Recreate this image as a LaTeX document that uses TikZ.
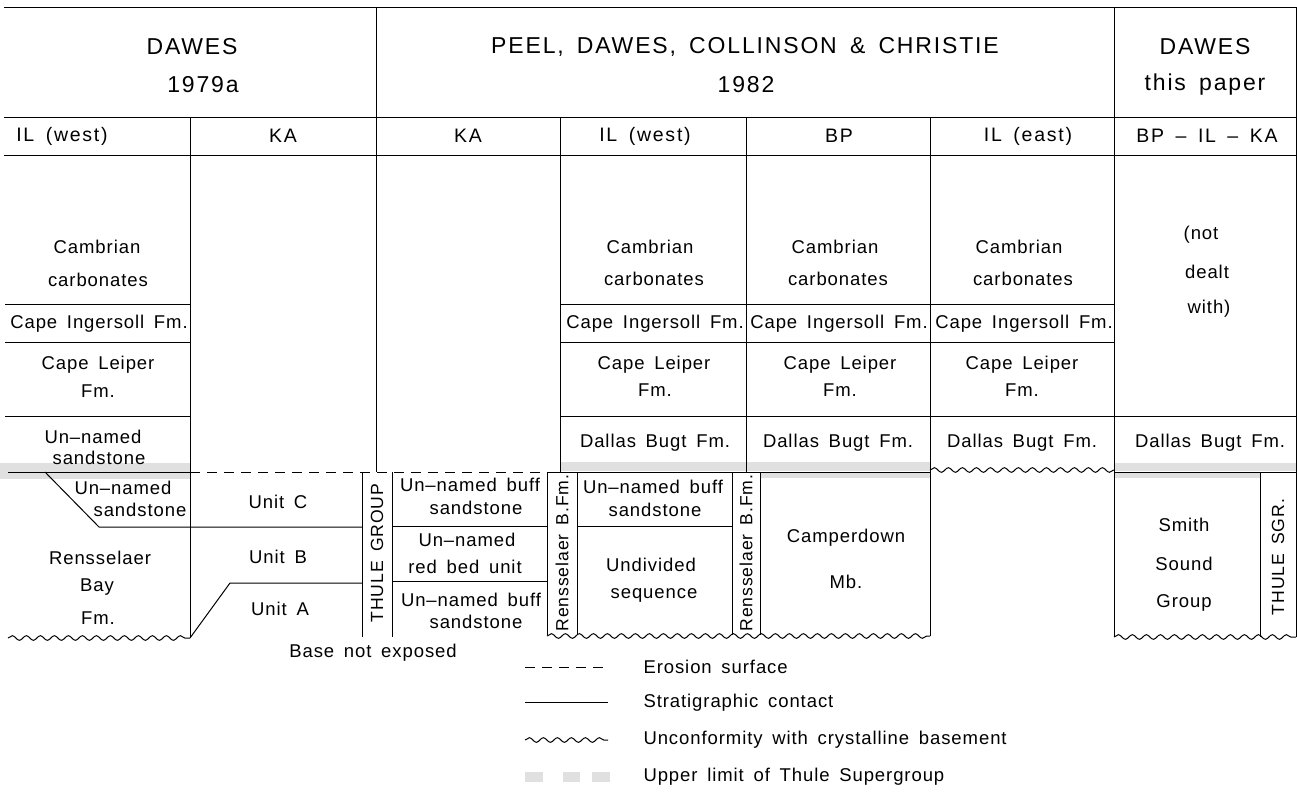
\documentclass[tikz,border=0pt]{standalone}
\usepackage{fontspec}
\setmainfont{Liberation Sans}[LetterSpace=5,WordSpace=1.6]
\usetikzlibrary{decorations.pathmorphing}
\begin{document}
\begin{tikzpicture}[x=1pt,y=-1pt,line width=1pt,
  lbl/.style={font=\fontsize{18.5}{22}\selectfont, inner sep=0pt},
  hdr/.style={font=\fontsize{23}{27}\selectfont\addfontfeatures{LetterSpace=8}, inner sep=0pt},
  colh/.style={font=\fontsize{19.5}{23}\selectfont\addfontfeatures{LetterSpace=9}, inner sep=0pt},
  rot/.style={font=\fontsize{17.6}{21}\selectfont, inner sep=0pt, rotate=90},
  wavy/.style={decorate, decoration={snake, segment length=14pt, amplitude=2.3pt}},
  erosion/.style={dash pattern=on 10pt off 7pt},
  thule/.style={fill=gray!24, draw=none}]
\useasboundingbox (0,0) rectangle (1297,795);

% ---- shading (upper limit of Thule Supergroup)
\fill[thule] (0,463) rectangle (190,479);
\fill[thule] (560,462) rectangle (930,471);
\fill[thule] (760,472) rectangle (930,478);
\fill[thule] (1114,463) rectangle (1296,471);
\fill[thule] (1114,472) rectangle (1260,478);

% ---- frame and header
\draw (4,7) -- (1297,7);
\draw (4,117) -- (1297,117);
\draw (4,155) -- (1297,155);
\draw (1296,7) -- (1296,637);
\draw (376,7) -- (376,472);
\draw (1114,7) -- (1114,637);
\draw (190,117) -- (190,638);
\draw (560,117) -- (560,472);
\draw (746,117) -- (746,472);
\draw (930,117) -- (930,636);

\node[hdr] (h1a) at (192,47) {DAWES};
\node[hdr] (h1b) at (203,85) {1979a};
\node[hdr] (h2a) at (745,47) {PEEL, DAWES, COLLINSON \& CHRISTIE};
\node[hdr] (h2b) at (746,85) {1982};
\node[hdr] (h3a) at (1205,47) {DAWES};
\node[hdr] (h3b) at (1205,85) {this paper};

\node[colh] (k1) at (62,136) {IL\ (west)};
\node[colh] (k2) at (283,136) {KA};
\node[colh] (k3) at (468,136) {KA};
\node[colh] (k4) at (645,136) {IL\ (west)};
\node[colh] (k5) at (839,136) {BP};
\node[colh] (k6) at (1028,136) {IL\ (east)};
\node[colh] (k7) at (1207,136) {BP\ –\ IL\ –\ KA};

% ---- column 1 (Dawes 1979a, IL west)
\draw (5,304) -- (190,304);
\draw (5,342) -- (190,342);
\draw (5,416) -- (190,416);
\draw (8,472) -- (190,472);
\draw (45,472) -- (99,527) -- (362,527);
\draw[wavy] (8,638) -- (190,638);
\draw (190,638) -- (230,583) -- (362,583);

\node[lbl] (a1) at (97,247) {Cambrian};
\node[lbl] (a2) at (98,280) {carbonates};
\node[lbl] (a3) at (99,324) {Cape Ingersoll Fm.};
\node[lbl] (a4) at (98,365) {Cape Leiper};
\node[lbl] (a5) at (98,391) {Fm.};
\node[lbl] (a6) at (93,437) {Un–named};
\node[lbl] (a7) at (99,458) {sandstone};
\node[lbl] (a8) at (123,488) {Un–named};
\node[lbl] (a9) at (140,510) {sandstone};
\node[lbl] (a10) at (100,558) {Rensselaer};
\node[lbl] (a11) at (97,587) {Bay};
\node[lbl] (a12) at (98,618) {Fm.};

% ---- column 2 (Dawes 1979a, KA)
\draw[erosion] (190,472) -- (547,472);
\node[lbl] (b1) at (278,502) {Unit C};
\node[lbl] (b2) at (278,557) {Unit B};
\node[lbl] (b3) at (280,609) {Unit A};
\draw (362,472) -- (362,637);
\draw (392,472) -- (392,637);
\node[rot] (tg) at (377,553) {THULE GROUP};
\node[lbl] (bne) at (373,653) {Base not exposed};

% ---- column 3 (Peel, KA)
\draw (392,526) -- (547,526);
\draw (392,581) -- (547,581);
\node[lbl] (c1) at (470,485) {Un–named buff};
\node[lbl] (c2) at (476,508) {sandstone};
\node[lbl] (c3) at (467,540) {Un–named};
\node[lbl] (c4) at (465,567) {red bed unit};
\node[lbl] (c5) at (471,600) {Un–named buff};
\node[lbl] (c6) at (476,622) {sandstone};

\draw (547,472) -- (930,472);
\draw (547,472) -- (547,635);
\draw (577,472) -- (577,635);
\node[rot] (rb1) at (562,553) {Rensselaer B.Fm.};
\draw (732,472) -- (732,635);
\draw (760,472) -- (760,635);
\node[rot] (rb2) at (746,553) {Rensselaer B.Fm.};
\draw[wavy] (547,636) -- (930,636);

% ---- rows shared by columns 4-6
\draw (560,304) -- (1114,304);
\draw (560,342) -- (1114,342);
\draw (560,416) -- (1296,416);
\draw[wavy] (930,470) -- (1114,470);

% ---- column 4 (Peel, IL west)
\node[lbl] (d1) at (650,247) {Cambrian};
\node[lbl] (d2) at (654,279) {carbonates};
\node[lbl] (d3) at (655,324) {Cape Ingersoll Fm.};
\node[lbl] (d4) at (654,365) {Cape Leiper};
\node[lbl] (d5) at (655,390) {Fm.};
\node[lbl] (d6) at (655,443) {Dallas Bugt Fm.};
\draw (577,526) -- (732,526);
\node[lbl] (d7) at (653,487) {Un–named buff};
\node[lbl] (d8) at (655,510) {sandstone};
\node[lbl] (d9) at (651,565) {Undivided};
\node[lbl] (d10) at (654,595) {sequence};

% ---- column 5 (Peel, BP)
\node[lbl] (e1) at (835,247) {Cambrian};
\node[lbl] (e2) at (838,279) {carbonates};
\node[lbl] (e3) at (839,324) {Cape Ingersoll Fm.};
\node[lbl] (e4) at (840,365) {Cape Leiper};
\node[lbl] (e5) at (840,390) {Fm.};
\node[lbl] (e6) at (838,443) {Dallas Bugt Fm.};
\node[lbl] (e7) at (846,538) {Camperdown};
\node[lbl] (e8) at (846,582) {Mb.};

% ---- column 6 (Peel, IL east)
\node[lbl] (f1) at (1019,247) {Cambrian};
\node[lbl] (f2) at (1023,279) {carbonates};
\node[lbl] (f3) at (1024,324) {Cape Ingersoll Fm.};
\node[lbl] (f4) at (1022,365) {Cape Leiper};
\node[lbl] (f5) at (1022,390) {Fm.};
\node[lbl] (f6) at (1022,443) {Dallas Bugt Fm.};

% ---- column 7 (Dawes this paper)
\node[lbl] (g1) at (1201,235) {(not};
\node[lbl] (g2) at (1207,272) {dealt};
\node[lbl] (g3) at (1209,309) {with)};
\node[lbl] (g4) at (1210,443) {Dallas Bugt Fm.};
\draw (1114,472) -- (1296,472);
\draw (1260,472) -- (1260,637);
\draw[wavy] (1114,637) -- (1296,637);
\node[lbl] (g5) at (1184,525) {Smith};
\node[lbl] (g6) at (1184,564) {Sound};
\node[lbl] (g7) at (1184,603) {Group};
\node[rot] (ts) at (1278,557) {THULE SGR.};

% ---- legend
\coordinate (l1a) at (525,667); \coordinate (l1b) at (608,667);
\coordinate (l2a) at (525,702); \coordinate (l2b) at (608,702);
\coordinate (l3a) at (525,740); \coordinate (l3b) at (608,740);
\draw[erosion] (l1a) -- (l1b);
\draw (l2a) -- (l2b);
\draw[wavy] (l3a) -- (l3b);
\fill[thule] (525,772) rectangle (543,782);
\fill[thule] (563,772) rectangle (580,782);
\fill[thule] (592,772) rectangle (610,782);
\node[lbl, anchor=west] (t1) at (643,667) {Erosion surface};
\node[lbl, anchor=west] (t2) at (643,703) {Stratigraphic contact};
\node[lbl, anchor=west] (t3) at (643,740) {Unconformity with crystalline basement};
\node[lbl, anchor=west] (t4) at (643,777) {Upper limit of Thule Supergroup};
\end{tikzpicture}
\end{document}
